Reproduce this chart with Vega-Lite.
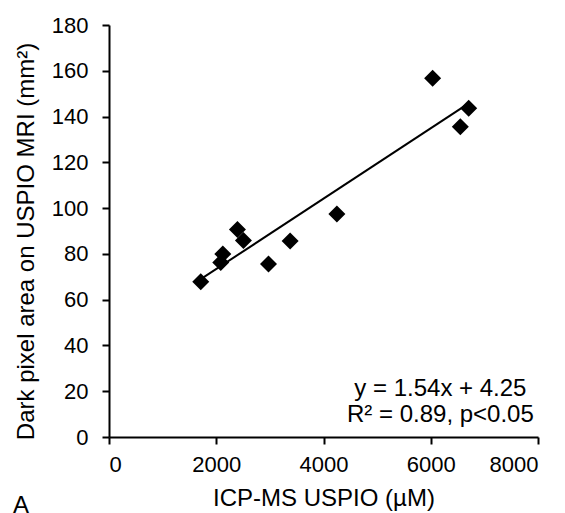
{
  "$schema": "https://vega.github.io/schema/vega-lite/v6.json",
  "width": 429,
  "height": 412,
  "autosize": {"type": "none"},
  "padding": {"left": 109, "top": 25, "right": 27, "bottom": 76},
  "background": "white",
  "config": {
    "font": "Liberation Sans",
    "view": {"stroke": null},
    "axis": {
      "grid": false,
      "domainColor": "black",
      "domainWidth": 2,
      "tickColor": "black",
      "tickWidth": 2,
      "tickSize": 7,
      "labelFont": "Liberation Sans",
      "labelFontSize": 22,
      "labelColor": "black",
      "titleFont": "Liberation Sans",
      "titleFontSize": 24,
      "titleFontWeight": "normal",
      "titleColor": "black"
    }
  },
  "data": {
    "values": [
      {"x": 1711, "y": 67.8},
      {"x": 2122, "y": 79.9},
      {"x": 2084, "y": 76.2},
      {"x": 2395, "y": 90.7},
      {"x": 2507, "y": 85.8},
      {"x": 2974, "y": 75.6},
      {"x": 3378, "y": 85.6},
      {"x": 4249, "y": 97.4},
      {"x": 6035, "y": 156.7},
      {"x": 6707, "y": 143.6},
      {"x": 6551, "y": 135.6}
    ]
  },
  "layer": [
    {
      "mark": {"type": "point", "shape": "diamond", "filled": true, "color": "black", "size": 289, "opacity": 1},
      "encoding": {
        "x": {
          "field": "x", "type": "quantitative",
          "scale": {"domain": [0, 8000], "nice": false},
          "axis": {"values": [0, 2000, 4000, 6000, 8000], "format": "d", "title": "ICP-MS USPIO (µM)", "labelPadding": 10, "titlePadding": 11}
        },
        "y": {
          "field": "y", "type": "quantitative",
          "scale": {"domain": [0, 180], "nice": false},
          "axis": {"values": [0, 20, 40, 60, 80, 100, 120, 140, 160, 180], "title": "Dark pixel area on USPIO MRI (mm²)", "labelPadding": 14, "titlePadding": 13, "titleY": 216}
        }
      }
    },
    {
      "transform": [{"regression": "y", "on": "x"}],
      "mark": {"type": "line", "color": "black", "strokeWidth": 2},
      "encoding": {
        "x": {"field": "x", "type": "quantitative"},
        "y": {"field": "y", "type": "quantitative"}
      }
    },
    {
      "data": {"values": [{}]},
      "mark": {"type": "text", "font": "Liberation Sans", "fontSize": 24, "color": "black", "align": "center", "baseline": "alphabetic", "lineHeight": 26},
      "encoding": {
        "x": {"datum": 6180},
        "y": {"datum": 17.7},
        "text": {"value": ["y = 1.54x + 4.25", "R² = 0.89, p<0.05"]}
      }
    },
    {
      "data": {"values": [{}]},
      "mark": {"type": "text", "font": "Liberation Sans", "fontSize": 24, "color": "black", "align": "left", "baseline": "alphabetic"},
      "encoding": {
        "x": {"datum": -1792},
        "y": {"datum": -33},
        "text": {"value": "A"}
      }
    }
  ]
}
